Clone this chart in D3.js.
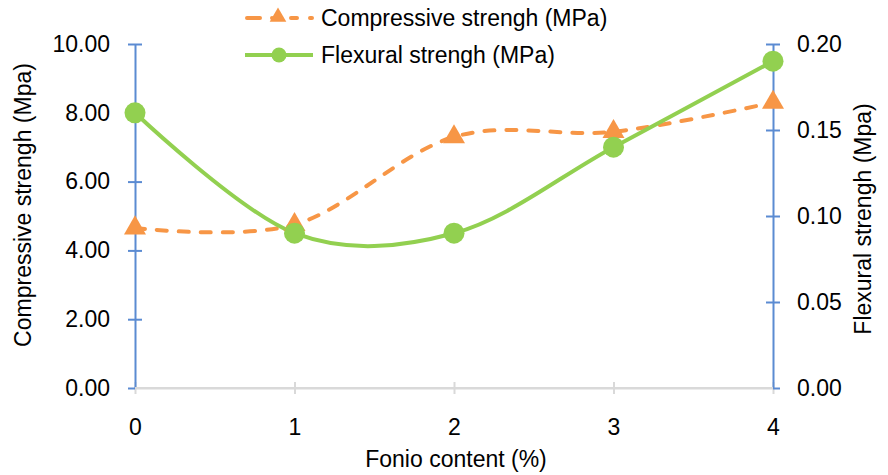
<!DOCTYPE html>
<html><head><meta charset="utf-8">
<script src="https://cdn.jsdelivr.net/npm/d3@7"></script>
<style>
body{margin:0;background:#fff;}
text{font-family:"Liberation Sans",Arial,sans-serif;fill:#000;}
</style></head>
<body>
<svg id="c" width="888" height="475"></svg>
<script>
const categories = [0, 1, 2, 3, 4];
const compressive = [4.65, 4.75, 7.3, 7.45, 8.3];
const flexural = [0.16, 0.09, 0.09, 0.14, 0.19];
const leftTicks = [0, 2, 4, 6, 8, 10];
const rightTicks = [0, 0.05, 0.10, 0.15, 0.20];
const seriesNames = ["Compressive strengh (MPa)", "Flexural strengh (MPa)"];

const orange = "#F79646", green = "#92D050", blue = "#5B8BD2", gray = "#D9D9D9";
const svg = d3.select("#c");
const fs = 23;

const x = d3.scalePoint().domain(categories).range([135, 773]);
const yL = d3.scaleLinear().domain([0, 10]).range([388, 44]);
const yR = d3.scaleLinear().domain([0, 0.2]).range([388, 44]);

// x axis
const gx = svg.append("g").attr("transform", "translate(0,388)")
  .call(d3.axisBottom(x).tickSize(0).tickPadding(31));
gx.select(".domain").attr("stroke", gray).attr("stroke-width", 2);
gx.selectAll(".tick line").attr("y1", -6).attr("y2", 6).attr("stroke", gray).attr("stroke-width", 2);
gx.selectAll("text").style("font-size", fs + "px");

// left axis
const gl = svg.append("g").attr("transform", "translate(135,0)")
  .call(d3.axisLeft(yL).tickValues(leftTicks).tickFormat(d3.format(".2f")).tickSize(0).tickPadding(25));
gl.select(".domain").attr("stroke", blue).attr("stroke-width", 2);
gl.selectAll(".tick line").attr("x1", -7).attr("x2", 7).attr("stroke", blue).attr("stroke-width", 2);
gl.selectAll(".tick").filter(d => d === 0).select("line").attr("x2", 0);
gl.selectAll("text").style("font-size", fs + "px");

// right axis
const gr = svg.append("g").attr("transform", "translate(773,0)")
  .call(d3.axisRight(yR).tickValues(rightTicks).tickFormat(d3.format(".2f")).tickSize(0).tickPadding(24));
gr.select(".domain").attr("stroke", blue).attr("stroke-width", 2);
gr.selectAll(".tick line").attr("x1", -7).attr("x2", 7).attr("stroke", blue).attr("stroke-width", 2);
gr.selectAll(".tick").filter(d => d === 0).select("line").attr("x1", 0);
gr.selectAll("text").style("font-size", fs + "px");

svg.append("line").attr("x1", x(0)).attr("x2", x(4)).attr("y1", 388).attr("y2", 388)
  .attr("stroke", gray).attr("stroke-width", 2);

// titles
svg.append("text").attr("transform", "translate(31,205) rotate(-90)")
  .attr("text-anchor", "middle").style("font-size", fs + "px").text("Compressive strengh (Mpa)");
svg.append("text").attr("transform", "translate(871,219) rotate(-90)")
  .attr("text-anchor", "middle").style("font-size", fs + "px").text("Flexural strengh (Mpa)");
svg.append("text").attr("x", 456).attr("y", 467)
  .attr("text-anchor", "middle").style("font-size", fs + "px").text("Fonio content (%)");

const curve = d3.curveCardinal.tension(0);
const lineL = d3.line().x((d, i) => x(categories[i])).y(d => yL(d)).curve(curve);
const lineR = d3.line().x((d, i) => x(categories[i])).y(d => yR(d)).curve(curve);

const tri = d3.symbol().type(d3.symbolTriangle).size(210);
const triSmall = d3.symbol().type(d3.symbolTriangle).size(120);

svg.append("path").attr("d", lineL(compressive)).attr("fill", "none")
  .attr("stroke", orange).attr("stroke-width", 4).attr("stroke-dasharray", "10 12")
  .attr("stroke-linecap", "round");

svg.append("path").attr("d", lineR(flexural)).attr("fill", "none")
  .attr("stroke", green).attr("stroke-width", 4);

svg.selectAll(".tri").data(compressive).enter().append("path")
  .attr("d", tri).attr("fill", orange)
  .attr("transform", (d, i) => `translate(${x(categories[i])},${yL(d)})`);
svg.selectAll(".dot").data(flexural).enter().append("circle")
  .attr("cx", (d, i) => x(categories[i])).attr("cy", d => yR(d)).attr("r", 10.5).attr("fill", green);

// legend
const lg = svg.append("g");
lg.append("line").attr("x1", 247).attr("x2", 312).attr("y1", 18).attr("y2", 18)
  .attr("stroke", orange).attr("stroke-width", 4).attr("stroke-dasharray", "13 12 0 19 6")
  .attr("stroke-linecap", "round");
lg.append("path").attr("d", triSmall).attr("fill", orange).attr("transform", "translate(278,17)");
lg.append("text").attr("x", 321).attr("y", 18).attr("dy", "0.35em").style("font-size", fs + "px").text(seriesNames[0]);
lg.append("line").attr("x1", 245).attr("x2", 313).attr("y1", 55).attr("y2", 55)
  .attr("stroke", green).attr("stroke-width", 4);
lg.append("circle").attr("cx", 279).attr("cy", 55).attr("r", 7.5).attr("fill", green);
lg.append("text").attr("x", 321).attr("y", 55).attr("dy", "0.35em").style("font-size", fs + "px").text(seriesNames[1]);
</script>
</body></html>
